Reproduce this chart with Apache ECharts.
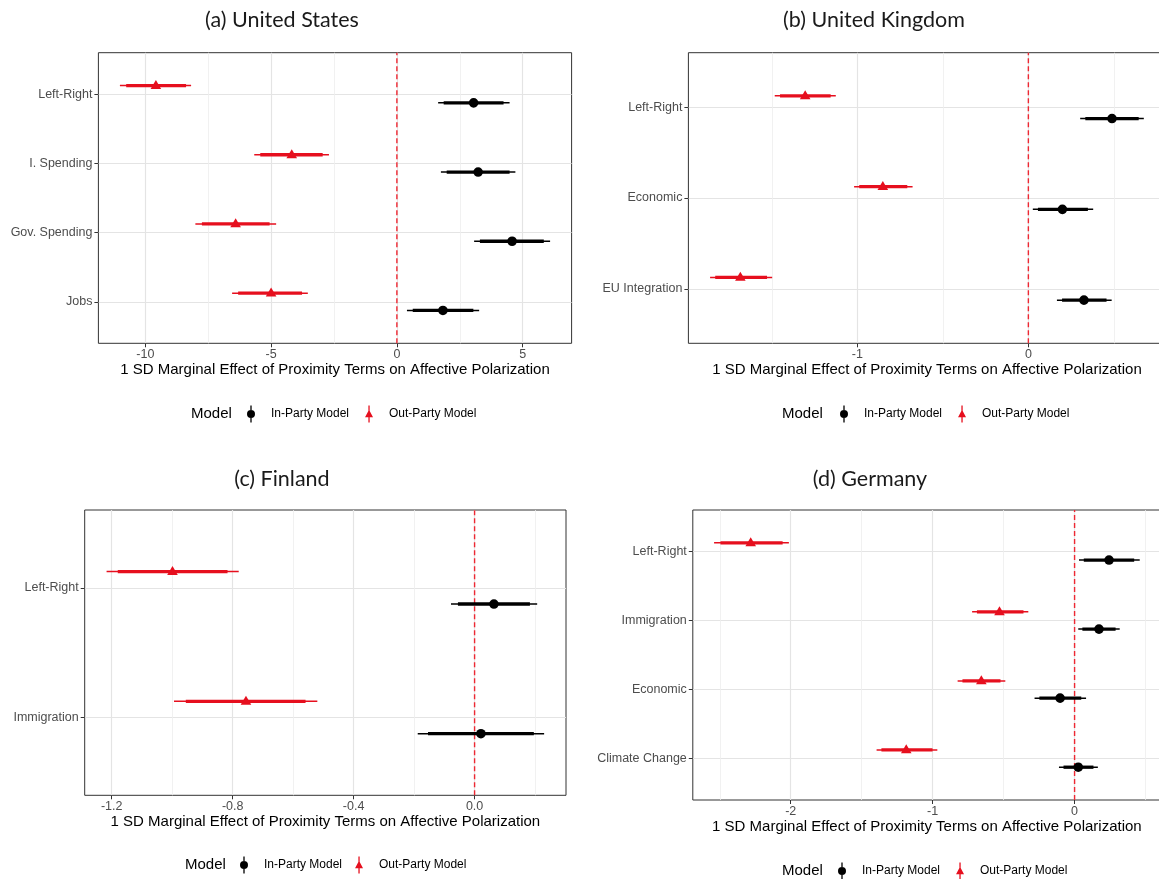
<!DOCTYPE html>
<html>
<head>
<meta charset="utf-8">
<script src="https://cdn.jsdelivr.net/npm/echarts@6/dist/echarts.min.js"></script>
<style>
  html, body { margin: 0; padding: 0; background: #ffffff; }
  #chart { width: 1159px; height: 879px; }
</style>
</head>
<body>
<div id="chart"></div>
<script>
// Each row: [estimate, outer low, outer high, inner low, inner high]
const usCategories = ['Left-Right', 'I. Spending', 'Gov. Spending', 'Jobs'];
const usInParty = [
  [3.05, 1.64, 4.48, 1.86, 4.24],
  [3.23, 1.75, 4.71, 1.98, 4.48],
  [4.58, 3.07, 6.09, 3.30, 5.84],
  [1.83, 0.40, 3.27, 0.63, 3.04]
];
const usOutParty = [
  [-9.58, -11.01, -8.18, -10.76, -8.38],
  [-4.18, -5.67, -2.70, -5.43, -2.95],
  [-6.41, -8.01, -4.80, -7.75, -5.06],
  [-5.00, -6.55, -3.54, -6.31, -3.77]
];
const usTicks = [-10, -5, 0, 5];
const usMinorTicks = [-7.5, -2.5, 2.5];

const ukCategories = ['Left-Right', 'Economic', 'EU Integration'];
const ukInParty = [
  [0.489, 0.303, 0.675, 0.333, 0.645],
  [0.199, 0.026, 0.379, 0.056, 0.348],
  [0.325, 0.167, 0.487, 0.197, 0.457]
];
const ukOutParty = [
  [-1.305, -1.483, -1.126, -1.452, -1.156],
  [-0.851, -1.019, -0.677, -0.989, -0.708],
  [-1.684, -1.861, -1.498, -1.831, -1.528]
];
const ukTicks = [-1, 0];
const ukMinorTicks = [-1.5, -0.5, 0.5];

const fiCategories = ['Left-Right', 'Immigration'];
const fiInParty = [
  [0.064, -0.078, 0.207, -0.055, 0.183],
  [0.021, -0.188, 0.230, -0.154, 0.196]
];
const fiOutParty = [
  [-0.999, -1.217, -0.780, -1.180, -0.817],
  [-0.756, -0.994, -0.520, -0.955, -0.559]
];
const fiTicks = [-1.2, -0.8, -0.4, 0.0];
const fiMinorTicks = [-1.0, -0.6, -0.2, 0.2];

const deCategories = ['Left-Right', 'Immigration', 'Economic', 'Climate Change'];
const deInParty = [
  [0.243, 0.031, 0.459, 0.065, 0.420],
  [0.172, 0.026, 0.318, 0.055, 0.289],
  [-0.102, -0.282, 0.081, -0.248, 0.047],
  [0.026, -0.110, 0.164, -0.078, 0.133]
];
const deOutParty = [
  [-2.282, -2.540, -2.013, -2.495, -2.057],
  [-0.529, -0.722, -0.326, -0.688, -0.360],
  [-0.657, -0.824, -0.488, -0.790, -0.522],
  [-1.186, -1.395, -0.967, -1.361, -1.001]
];
const deTicks = [-2, -1, 0];
const deMinorTicks = [-2.5, -1.5, -0.5, 0.5];

const axisTitle = '1 SD Marginal Effect of Proximity Terms on Affective Polarization';
const inName = 'In-Party Model';
const outName = 'Out-Party Model';

const RED = '#E60F1E';
const BLACK = '#000000';
const SANS = '"Liberation Sans", Arial, sans-serif';

const panels = [
  { title: '(a) United States', cats: usCategories, inP: usInParty, outP: usOutParty,
    ticks: usTicks, minor: usMinorTicks, decimals: 0,
    grid: { left: 98.4, top: 52.7, width: 473.2, height: 290.6 },
    titleXY: [282, 20], legend: { left: 247, y: 414, labelX: 191, gap: 16 } },
  { title: '(b) United Kingdom', cats: ukCategories, inP: ukInParty, outP: ukOutParty,
    ticks: ukTicks, minor: ukMinorTicks, decimals: 0,
    grid: { left: 688.4, top: 52.7, width: 477.1, height: 290.6 },
    titleXY: [874, 20], legend: { left: 840, y: 414, labelX: 782, gap: 16 } },
  { title: '(c) Finland', cats: fiCategories, inP: fiInParty, outP: fiOutParty,
    ticks: fiTicks, minor: fiMinorTicks, decimals: 1,
    grid: { left: 84.7, top: 510, width: 481.3, height: 285.3 },
    titleXY: [282, 479], legend: { left: 240, y: 865, labelX: 185, gap: 13 } },
  { title: '(d) Germany', cats: deCategories, inP: deInParty, outP: deOutParty,
    ticks: deTicks, minor: deMinorTicks, decimals: 0,
    grid: { left: 692.8, top: 510, width: 468.2, height: 290 },
    titleXY: [870, 479], legend: { left: 838, y: 871, labelX: 782, gap: 16 } }
];

// legend keys: point with a vertical interval line through it
const inIcon = 'path://M3.35,0L4.65,0L4.65,17L3.35,17Z M4,4.5A4,4 0 1 1 4,12.5A4,4 0 1 1 4,4.5Z';
const outIcon = 'path://M3.35,0L4.65,0L4.65,17L3.35,17Z M4,4.2L8,11.7L0,11.7Z';

// thin outer interval, thick inner interval and the point estimate
function intervalRenderer(color, shape) {
  return function (params, api) {
    const y = api.value(5);
    const pe = api.coord([api.value(0), y]);
    const o1 = api.coord([api.value(1), y]);
    const o2 = api.coord([api.value(2), y]);
    const i1 = api.coord([api.value(3), y]);
    const i2 = api.coord([api.value(4), y]);
    const children = [
      { type: 'line', shape: { x1: o1[0], y1: o1[1], x2: o2[0], y2: o2[1] },
        style: { stroke: color, lineWidth: 1.5 } },
      { type: 'line', shape: { x1: i1[0], y1: i1[1], x2: i2[0], y2: i2[1] },
        style: { stroke: color, lineWidth: 3.3 } }
    ];
    if (shape === 'circle') {
      children.push({ type: 'circle', shape: { cx: pe[0], cy: pe[1], r: 4.8 },
        style: { fill: color } });
    } else {
      children.push({ type: 'polygon',
        shape: { points: [[pe[0], pe[1] - 5.6], [pe[0] + 5.3, pe[1] + 3.4], [pe[0] - 5.3, pe[1] + 3.4]] },
        style: { fill: color } });
    }
    return { type: 'group', children: children };
  };
}

const option = {
  animation: false,
  backgroundColor: '#ffffff',
  grid: [], xAxis: [], yAxis: [], series: [], legend: [], graphic: []
};

panels.forEach(function (p, k) {
  const n = p.cats.length;
  const lows = p.inP.concat(p.outP).map(function (r) { return r[1]; });
  const highs = p.inP.concat(p.outP).map(function (r) { return r[2]; });
  const lo = Math.min.apply(null, lows), hi = Math.max.apply(null, highs);
  const pad = (hi - lo) * 0.05;
  const xMin = lo - pad, xMax = hi + pad;
  const yMin = 0.4, yMax = n + 0.6;

  option.grid.push(Object.assign({
    show: true, borderColor: '#333333', borderWidth: 1, backgroundColor: 'transparent',
    outerBoundsMode: 'none', containLabel: false
  }, p.grid));

  // main x axis: labelled ticks and major grid lines
  option.xAxis.push({
    type: 'value', gridIndex: k, position: 'bottom', min: xMin, max: xMax,
    axisLine: { show: false, onZero: false },
    axisTick: { show: true, length: 4, customValues: p.ticks, lineStyle: { color: '#333333', width: 1 } },
    axisLabel: { show: true, customValues: p.ticks, margin: 5, color: '#4D4D4D',
      fontFamily: SANS, fontSize: 12.5,
      formatter: function (v) { return Number(v).toFixed(p.decimals); } },
    splitLine: { show: true, lineStyle: { color: '#E4E4E4', width: 1.2 } },
    name: axisTitle, nameLocation: 'middle', nameGap: 19,
    nameTextStyle: { color: '#000000', fontFamily: SANS, fontSize: 15 }
  });
  // companion x axis carrying only the minor grid lines
  option.xAxis.push({
    type: 'value', gridIndex: k, position: 'top', min: xMin, max: xMax,
    axisLine: { show: false, onZero: false },
    axisTick: { show: false, customValues: p.minor },
    axisLabel: { show: false, customValues: p.minor },
    splitLine: { show: true, lineStyle: { color: '#EEEEEE', width: 0.8 } }
  });

  const cats = p.cats;
  const yPos = cats.map(function (c, i) { return n - i; });
  option.yAxis.push({
    type: 'value', gridIndex: k, position: 'left', min: yMin, max: yMax,
    axisLine: { show: false, onZero: false },
    axisTick: { show: true, length: 4, customValues: yPos, lineStyle: { color: '#333333', width: 1 } },
    axisLabel: { show: true, customValues: yPos, margin: 6, color: '#4D4D4D',
      fontFamily: SANS, fontSize: 12.5,
      formatter: function (v) { return cats[n - Math.round(v)]; } },
    splitLine: { show: true, lineStyle: { color: '#E4E4E4', width: 1.2 } }
  });

  const xi = k * 2;
  // dashed reference line at zero
  option.series.push({
    type: 'custom', name: 'zero', xAxisIndex: xi, yAxisIndex: k, z: 1, silent: true,
    data: [[0, yMin, yMax]], encode: { x: 0, y: [1, 2] },
    renderItem: function (params, api) {
      const a = api.coord([api.value(0), api.value(1)]);
      const b = api.coord([api.value(0), api.value(2)]);
      return { type: 'line', shape: { x1: a[0], y1: a[1], x2: b[0], y2: b[1] },
        style: { stroke: '#EE2833', lineWidth: 1.4, lineDash: [5, 3] } };
    }
  });

  const dodge = 0.125;
  option.series.push({
    type: 'custom', name: inName, xAxisIndex: xi, yAxisIndex: k, z: 3,
    itemStyle: { color: BLACK },
    data: p.inP.map(function (r, i) { return r.concat([yPos[i] - dodge]); }),
    encode: { x: [0, 1, 2, 3, 4], y: 5 },
    renderItem: intervalRenderer(BLACK, 'circle')
  });
  option.series.push({
    type: 'custom', name: outName, xAxisIndex: xi, yAxisIndex: k, z: 3,
    itemStyle: { color: RED },
    data: p.outP.map(function (r, i) { return r.concat([yPos[i] + dodge]); }),
    encode: { x: [0, 1, 2, 3, 4], y: 5 },
    renderItem: intervalRenderer(RED, 'triangle')
  });

  option.legend.push({
    left: p.legend.left, top: p.legend.y - 8.5, orient: 'horizontal', padding: 0,
    itemWidth: 8, itemHeight: 17, itemGap: p.legend.gap, selectedMode: false,
    textStyle: { color: '#000000', fontFamily: SANS, fontSize: 12, padding: [0, 0, 0, 11] },
    data: [{ name: inName, icon: inIcon }, { name: outName, icon: outIcon }]
  });

  option.graphic.push({
    type: 'text', x: p.legend.labelX, y: p.legend.y,
    style: { text: 'Model', fontFamily: SANS, fontSize: 15, fill: '#000000',
      align: 'left', verticalAlign: 'middle' }
  });
  option.graphic.push({
    type: 'text', x: p.titleXY[0], y: p.titleXY[1],
    style: { text: p.title, fontFamily: 'Lato, "Open Sans", sans-serif', fontSize: 21.5,
      fill: '#1a1a1a', align: 'center', verticalAlign: 'middle' }
  });
});

const chart = echarts.init(document.getElementById('chart'), null, { renderer: 'canvas' });
chart.setOption(option);
</script>
</body>
</html>
